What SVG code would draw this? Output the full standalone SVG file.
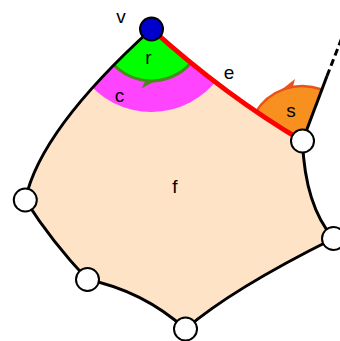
<svg xmlns="http://www.w3.org/2000/svg" width="340" height="341" viewBox="0 0 340 341">
<style>
.lbl{font-family:"Liberation Sans",Arial,sans-serif;font-size:19px;fill:#000;text-anchor:middle}
.edge{fill:none;stroke:#000;stroke-width:3}
.node{fill:#fff;stroke:#000;stroke-width:2}
</style>
<defs>
<clipPath id="faceClip">
<path d="M151.5,29 Q226,96 302.5,141 Q305,206 333.5,238.5 Q232,289 185.5,329 Q143,291 87.5,279.5 Q52,242 25.3,200 Q40,130 151.5,29 Z"/>
</clipPath>
</defs>
<g id="s">
<path d="M302.5,141 L255.1,113.1 A55,55 0 0,1 321.8,89.5 Z" fill="#f8901f"/>
<path d="M255.1,113.1 A55,55 0 0,1 321.8,89.5" fill="none" stroke="#e8531a" stroke-width="2.5"/>
<polygon points="280.5,90.5 295,79 293,86.5" fill="#e8531a"/>
</g>
<g id="f">
<path d="M151.5,29 Q226,96 302.5,141 Q305,206 333.5,238.5 Q232,289 185.5,329 Q143,291 87.5,279.5 Q52,242 25.3,200 Q40,130 151.5,29 Z" fill="#ffe3c7"/>
</g>
<g id="c" clip-path="url(#faceClip)">
<path d="M151.5,29 L219.5,76.6 A83,83 0 0,1 83.9,77.3 Z" fill="#ff44ff"/>
</g>
<g id="r" clip-path="url(#faceClip)">
<path d="M151.5,29 L194.1,58.8 A52,52 0 0,1 111.7,62.4 Z" fill="#00ff00"/>
<path d="M111.7,62.4 A52,52 0 0,0 194.1,58.8" fill="none" stroke="#4a8a1a" stroke-width="3"/>
</g>
<g id="r-arrow">
<polygon points="155,81 141.5,88.5 145,81.5" fill="#4a8a1a"/>
</g>
<g id="connectors">
<path class="edge" d="M151.5,29 Q40,130 25.3,200"/>
<path class="edge" d="M25.3,200 Q52,242 87.5,279.5"/>
<path class="edge" d="M87.5,279.5 Q143,291 185.5,329"/>
<path class="edge" d="M185.5,329 Q232,289 333.5,238.5"/>
<path class="edge" d="M333.5,238.5 Q305,206 302.5,141"/>
<path class="edge" d="M302.5,141 L327,76"/>
<path class="edge" d="M327,76 L343,35" stroke-dasharray="7,4"/>
<path d="M151.5,29 Q226,96 302.5,141" fill="none" stroke="#ff0000" stroke-width="5"/>
</g>
<g id="v"><circle cx="151.5" cy="29" r="11.5" fill="#0000cc" stroke="#000" stroke-width="2"/></g>
<g id="n1"><circle class="node" cx="302.5" cy="141" r="11.5"/></g>
<g id="n2"><circle class="node" cx="25.3" cy="200" r="11.5"/></g>
<g id="n3"><circle class="node" cx="87.5" cy="279.5" r="11.5"/></g>
<g id="n4"><circle class="node" cx="185.5" cy="329" r="11.5"/></g>
<g id="n5"><circle class="node" cx="333.5" cy="238.5" r="11.5"/></g>
<g id="labels">
<text class="lbl" x="121" y="23">v</text>
<text class="lbl" x="148.5" y="64">r</text>
<text class="lbl" x="119.5" y="102">c</text>
<text class="lbl" x="229" y="79">e</text>
<text class="lbl" x="291" y="117">s</text>
<text class="lbl" x="175" y="193">f</text>
</g>
</svg>
